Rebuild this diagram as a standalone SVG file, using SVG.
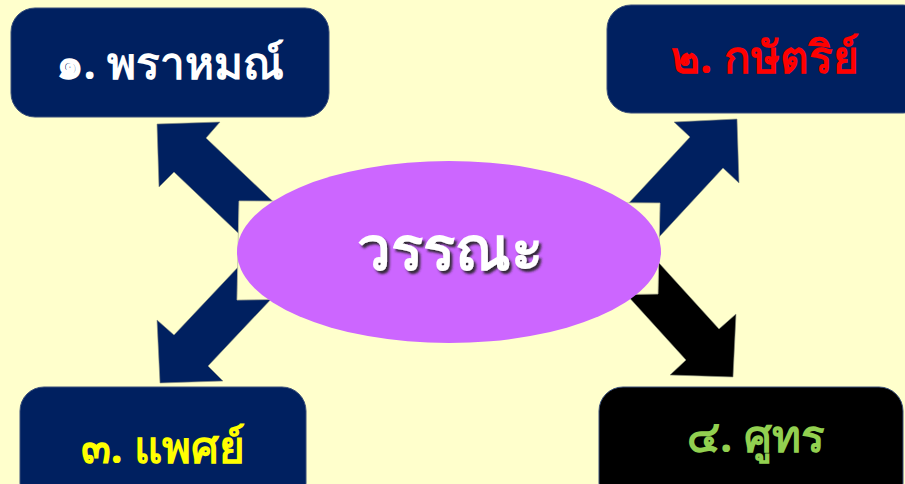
<svg xmlns="http://www.w3.org/2000/svg" width="905" height="484" viewBox="0 0 905 484">
<style>
.box{stroke:#3a4f7a;stroke-width:1}
.lbl{font-family:"Noto Sans","DejaVu Sans",sans-serif;font-weight:bold;text-anchor:middle}
.arr{fill:#002060;stroke:#8a8f80;stroke-width:0.6}
</style>
<defs>
<filter id="sh" x="-10%" y="-20%" width="120%" height="150%">
<feDropShadow dx="2.5" dy="3" stdDeviation="1" flood-color="#222" flood-opacity="0.9"/>
</filter>
</defs>
<rect width="905" height="484" fill="#FFFFCC"/>
<g id="connectors">
<polygon class="arr" points="157,124 220,122 206,138 306,233 274,267 174,172 159,187"/>
<polygon class="arr" points="737,119 674,122 690,137 590,245 623,276 723,168 739,183"/>
<polygon class="arr" points="160,383 157,320 174,335 274,229 308,260 208,366 223,381"/>
<polygon class="arr" style="fill:#000" points="733,377 736,314 719,329 619,219 586,250 686,360 670,375"/>
<polygon points="239,201 660,203 658,294 237,300" fill="#FFFFCC" stroke="#b8b89a" stroke-width="0.8"/>
</g>
<g id="center">
<ellipse cx="449" cy="252" rx="212" ry="91" fill="#CC66FF"/>
<text class="lbl" x="450" y="270" font-size="60" fill="#fff" filter="url(#sh)">วรรณะ</text>
</g>
<g id="node1">
<rect class="box" x="11" y="8" width="318" height="109" rx="24" fill="#002060"/>
<text class="lbl" x="170" y="79" font-size="44" fill="#fff">๑. พราหมณ์</text>
</g>
<g id="node2">
<rect class="box" x="607" y="5" width="320" height="108" rx="24" fill="#002060"/>
<text class="lbl" x="765" y="73" font-size="44" fill="#FF0000">๒. กษัตริย์</text>
</g>
<g id="node3">
<rect class="box" x="20" y="387" width="286" height="120" rx="24" fill="#002060"/>
<text class="lbl" x="163" y="463" font-size="44" fill="#FFFF00">๓. แพศย์</text>
</g>
<g id="node4">
<rect class="box" x="599" y="387" width="304" height="120" rx="24" fill="#000"/>
<text class="lbl" x="756" y="452" font-size="44" fill="#92D050">๔. ศูทร</text>
</g>
</svg>
